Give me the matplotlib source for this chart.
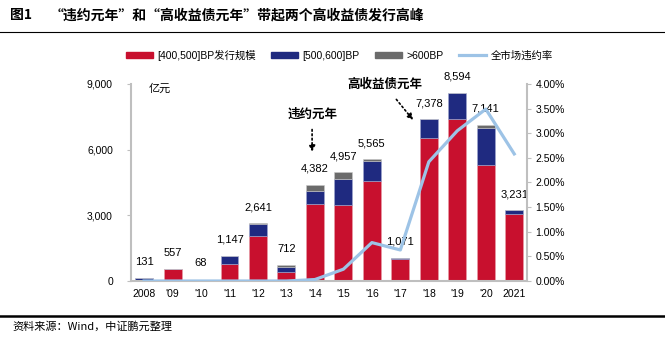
import matplotlib
matplotlib.use("Agg")
import matplotlib.pyplot as plt
from matplotlib.lines import Line2D
from matplotlib.patches import Patch
from matplotlib.ticker import FuncFormatter, PercentFormatter
import numpy as np

plt.rcParams["font.family"] = ["Liberation Sans", "Noto Sans CJK SC", "DejaVu Sans"]

# data (亿元 / %)
years = ["2008", "'09", "'10", "'11", "'12", "'13", "'14", "'15", "'16", "'17",
         "'18", "'19", "'20", "2021"]
red_400_500 = [50, 540, 50, 760, 2050, 420, 3500, 3450, 4580, 1000, 6520, 7380, 5280, 3045]
blue_500_600 = [81, 17, 18, 387, 540, 210, 620, 1190, 910, 71, 858, 1200, 1720, 186]
grey_600 = [0, 0, 0, 0, 51, 82, 262, 317, 75, 0, 0, 14, 141, 0]
totals = [131, 557, 68, 1147, 2641, 712, 4382, 4957, 5565, 1071, 7378, 8594, 7141, 3231]
default_rate = [0.0, 0.0, 0.0, 0.0, 0.0, 0.0, 0.03, 0.24, 0.78, 0.63, 2.42, 3.05, 3.49, 2.58]

RED = "#C8102E"
NAVY = "#1F2A80"
GREY = "#6B6B6B"
LBLUE = "#9DC3E6"
AXC = "#BFBFBF"

fig = plt.figure(figsize=(6.65, 3.38), dpi=100)
ax = fig.add_axes([0.197, 0.1686, 0.596, 0.583])
x = np.arange(len(years))
w = 0.63

red = np.array(red_400_500)
blue = np.array(blue_500_600)
grey = np.array(grey_600)
ax.bar(x, red, w, color=RED, edgecolor="#E8A0A8", linewidth=0.4, zorder=2)
ax.bar(x, blue, w, bottom=red, color=NAVY, edgecolor="#A0A8D0", linewidth=0.4, zorder=2)
ax.bar(x, grey, w, bottom=red + blue, color=GREY, edgecolor="#C8C8C8", linewidth=0.4, zorder=2)

for xi, t in zip(x, totals):
    ax.annotate(f"{t:,}", (xi, t), xytext=(0, 8), textcoords="offset points",
                ha="center", va="bottom", fontsize=8)

ax.set_xlim(-0.46, 13.46)
ax.set_ylim(0, 9000)
ax.set_yticks([0, 3000, 6000, 9000])
ax.yaxis.set_major_formatter(FuncFormatter(lambda v, p: f"{int(v):,}"))
ax.set_xticks(x)
ax.set_xticklabels(years)
ax.tick_params(axis="x", length=0, labelsize=7.5, pad=6)
ax.tick_params(axis="y", length=3, color=AXC, labelsize=7.5, pad=10)
for s in ["top", "right"]:
    ax.spines[s].set_visible(False)
for s in ["left", "bottom"]:
    ax.spines[s].set_color(AXC)
    ax.spines[s].set_linewidth(1.5)
ax.text(0.045, 1.0, "亿元", transform=ax.transAxes, fontsize=8, va="top")

ax2 = ax.twinx()
ax2.plot(x, default_rate, color=LBLUE, linewidth=2.3, zorder=3)
ax2.set_ylim(0, 4)
ax2.set_yticks(np.arange(0, 4.01, 0.5))
ax2.yaxis.set_major_formatter(PercentFormatter(decimals=2))
ax2.tick_params(axis="y", length=3, color=AXC, labelsize=7.5, pad=3)
for s in ["top", "left", "bottom"]:
    ax2.spines[s].set_visible(False)
ax2.spines["right"].set_color(AXC)
ax2.spines["right"].set_linewidth(1.5)

# annotations (positioned in left-axis units, converted to right axis)
ax2.annotate("违约元年", xy=(5.9, 5900 / 2250), xytext=(5.9, 7580 / 2250), ha="center",
             va="center", fontsize=9, fontweight="bold",
             arrowprops=dict(arrowstyle="-|>", linestyle=":", color="black", lw=1.2,
                             shrinkA=4, shrinkB=0))
ax2.annotate("高收益债元年", xy=(9.45, 7350 / 2250), xytext=(8.45, 8950 / 2250),
             ha="center", va="center", fontsize=9, fontweight="bold",
             arrowprops=dict(arrowstyle="-|>", linestyle=":", color="black", lw=1.2,
                             shrinkA=5, shrinkB=0))

# legend
handles = [Patch(color=RED), Patch(color=NAVY), Patch(color=GREY),
           Line2D([], [], color=LBLUE, lw=2.3)]
labels = ["[400,500]BP发行规模", "[500,600]BP", ">600BP", "全市场违约率"]
fig.legend(handles, labels, loc="center", bbox_to_anchor=(0.51, 0.837), ncol=4,
           frameon=False, fontsize=7.5, handlelength=2.6, handleheight=0.5,
           columnspacing=1.5, handletextpad=0.4)

# title, rules, source
fig.text(0.015, 0.955, "图1", fontsize=10, fontweight="bold", va="center",
         family=["Noto Sans CJK SC"])
fig.text(0.075, 0.955, "“违约元年”和“高收益债元年”带起两个高收益债发行高峰",
         fontsize=10, fontweight="bold", va="center", family=["Noto Sans CJK SC"])
fig.add_artist(Line2D([0, 1], [0.905, 0.905], color="black", lw=0.8))
fig.add_artist(Line2D([0, 1], [0.065, 0.065], color="black", lw=1.8))
fig.text(0.018, 0.035, "资料来源：Wind，中证鹏元整理", fontsize=8, va="center",
         family=["Noto Sans CJK SC"])

fig.savefig("out.png", dpi=100)
